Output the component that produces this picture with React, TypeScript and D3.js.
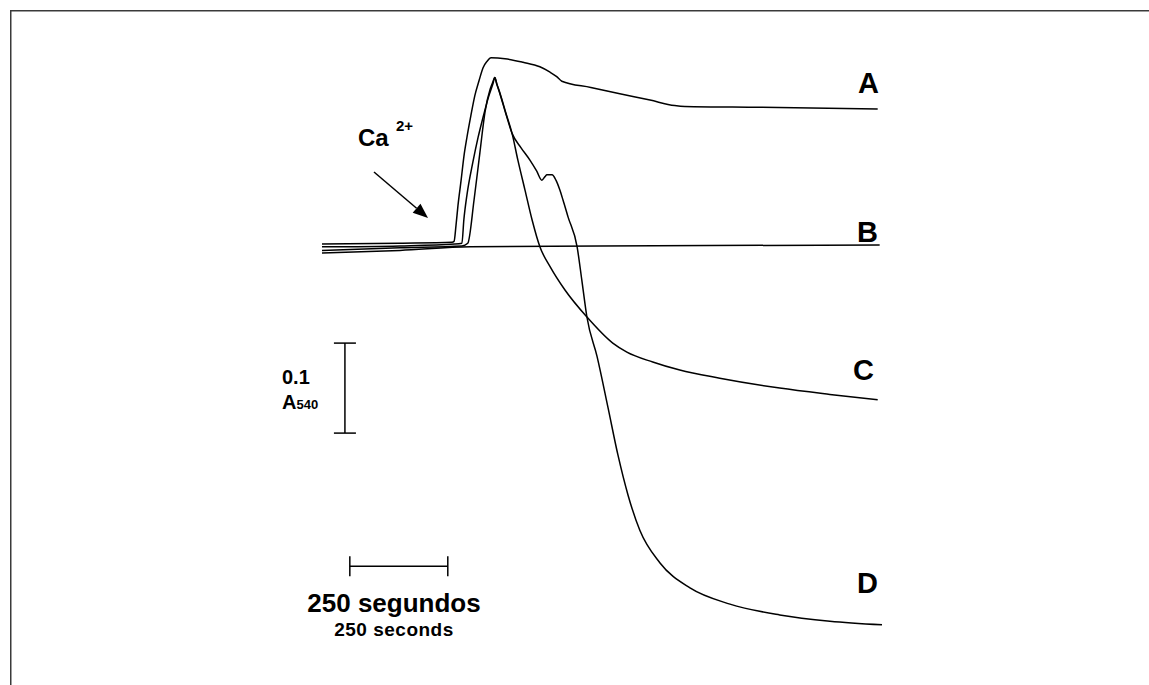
import React from 'react'
import * as d3 from 'd3'

// time after start of recording (s), absorbance change at 540 nm (mA units, 1 mA = 0.001)
const traceA: [number, number][] = [
  [0, 1], [199, 2], [332, 3], [337, 4], [342, 22], [347, 44], [355, 72], [362, 98],
  [370, 120], [380, 144], [390, 166], [401, 183], [411, 197], [421, 204], [431, 208],
  [467, 207], [513, 203], [556, 198], [582, 192], [599, 187], [612, 182], [686, 175],
  [760, 168], [837, 161], [900, 155], [926, 154], [1117, 153], [1418, 151],
]

const traceB: [number, number][] = [
  [0, -9], [199, -6], [378, -2], [709, -1], [1423, 0],
]

const traceC: [number, number][] = [
  [0, -2], [199, -1], [339, 1], [357, 2], [362, 28], [370, 56], [385, 92], [398, 119],
  [411, 142], [426, 166], [436, 179], [441, 186], [446, 179], [454, 169], [469, 147],
  [485, 124], [500, 94], [518, 61], [536, 28], [556, -2], [582, -24], [620, -50],
  [676, -80], [742, -109], [778, -119], [844, -130], [913, -139], [1015, -148],
  [1168, -159], [1296, -166], [1418, -172],
]

const traceD: [number, number][] = [
  [0, -6], [199, -3], [357, -1], [372, 2], [388, 50], [403, 103], [416, 148], [429, 173],
  [436, 181], [441, 186], [446, 179], [454, 168], [469, 146], [485, 124], [508, 108],
  [531, 94], [548, 82], [561, 72], [569, 76], [574, 78], [587, 78], [597, 72], [607, 61],
  [615, 50], [628, 31], [651, -2], [663, -39], [676, -80], [702, -124], [730, -181],
  [755, -233], [781, -278], [811, -317], [862, -353], [939, -381], [1041, -399],
  [1168, -411], [1296, -418], [1429, -422],
]

const traces = [
  { name: 'A', data: traceA },
  { name: 'B', data: traceB },
  { name: 'C', data: traceC },
  { name: 'D', data: traceD },
]

const timeBar = 250 // seconds
const absBar = 100 // mA = 0.1 A540

const font = '"Liberation Sans", Arial, sans-serif'

function App() {
  const width = 1149
  const height = 685

  const x = d3.scaleLinear().domain([0, 1429]).range([322, 882])
  const y = d3.scaleLinear().domain([0, 100]).range([245, 155])

  const line = d3.line<[number, number]>()
    .x(d => x(d[0]))
    .y(d => y(d[1]))
    .curve(d3.curveMonotoneX)

  // scale bars, anchored in data units
  const tb0 = 71, tbY = -357
  const ab0 = -109, abX = 58.5

  // Ca2+ arrow
  const ax1 = 374, ay1 = 172, ax2 = 428, ay2 = 218
  const ang = Math.atan2(ay2 - ay1, ax2 - ax1)
  const hl = 15, hw = 6
  const bx = ax2 - hl * Math.cos(ang), by = ay2 - hl * Math.sin(ang)
  const head = [
    [ax2, ay2],
    [bx + hw * Math.sin(ang), by - hw * Math.cos(ang)],
    [bx - hw * Math.sin(ang), by + hw * Math.cos(ang)],
  ].map(p => p.join(',')).join(' ')

  const labelPos: Record<string, [number, number]> = {
    A: [858, 93], B: [857, 242], C: [853, 380], D: [857, 593],
  }

  return (
    <svg width={width} height={height} style={{ position: 'absolute', left: 0, top: 0, background: '#fff' }}
      fontFamily={font}>
      <rect x={10.75} y={10.75} width={1400} height={1000} fill="none" stroke="#3a3a3a" strokeWidth={1.5} />

      {traces.map(t => (
        <path key={t.name} d={line(t.data) || ''} fill="none" stroke="#000" strokeWidth={1.5} />
      ))}

      {traces.map(t => (
        <text key={'l' + t.name} x={labelPos[t.name][0]} y={labelPos[t.name][1]}
          fontSize={29} fontWeight="bold">{t.name}</text>
      ))}

      {/* Ca2+ addition */}
      <text x={358} y={146} fontSize={24} fontWeight="bold">Ca</text>
      <text x={396} y={131} fontSize={15} fontWeight="bold">2+</text>
      <line x1={ax1} y1={ay1} x2={bx} y2={by} stroke="#000" strokeWidth={1.5} />
      <polygon points={head} fill="#000" />

      {/* absorbance scale bar */}
      <g stroke="#000" strokeWidth={1.5}>
        <line x1={x(abX)} x2={x(abX)} y1={y(ab0)} y2={y(ab0 - absBar)} />
        <line x1={x(abX) - 11} x2={x(abX) + 11} y1={y(ab0)} y2={y(ab0)} />
        <line x1={x(abX) - 11} x2={x(abX) + 11} y1={y(ab0 - absBar)} y2={y(ab0 - absBar)} />
      </g>
      <text x={282} y={384} fontSize={20} fontWeight="bold">0.1</text>
      <text x={282} y={409} fontWeight="bold">
        <tspan fontSize={20}>A</tspan><tspan fontSize={13}>540</tspan>
      </text>

      {/* time scale bar */}
      <g stroke="#000" strokeWidth={1.5}>
        <line x1={x(tb0)} x2={x(tb0 + timeBar)} y1={y(tbY)} y2={y(tbY)} />
        <line x1={x(tb0)} x2={x(tb0)} y1={y(tbY) - 10} y2={y(tbY) + 10} />
        <line x1={x(tb0 + timeBar)} x2={x(tb0 + timeBar)} y1={y(tbY) - 10} y2={y(tbY) + 10} />
      </g>
      <text x={394} y={612} fontSize={26} fontWeight="bold" textAnchor="middle">250 segundos</text>
      <text x={394} y={636} fontSize={19} fontWeight="bold" textAnchor="middle" letterSpacing={0.5}>250 seconds</text>
    </svg>
  )
}

export default App
